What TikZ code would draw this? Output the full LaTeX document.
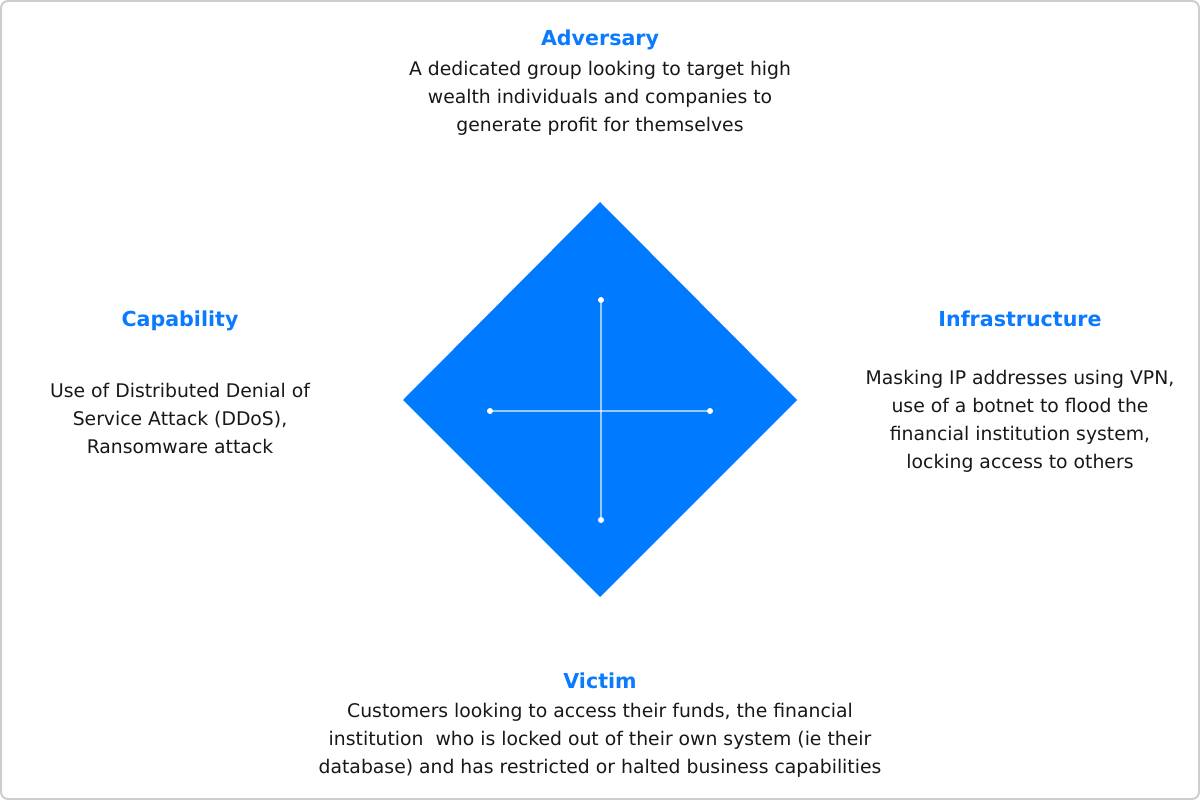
\documentclass[tikz,border=0pt]{standalone}
\usepackage{fontspec}
\setmainfont{DejaVu Sans}
\definecolor{diamondblue}{RGB}{0,122,255}
\definecolor{titleblue}{RGB}{10,122,255}
\definecolor{bodytext}{RGB}{24,24,24}
\definecolor{framegray}{RGB}{205,205,205}
\begin{document}
\begin{tikzpicture}[x=1pt,y=-1pt,
  heading/.style={font=\fontsize{20.6}{26}\selectfont\bfseries, text=titleblue, inner sep=0pt, anchor=base},
  bodyblock/.style={font=\fontsize{18.8}{28}\selectfont, text=bodytext, align=center, inner sep=0pt, anchor=north},
  axisline/.style={white, opacity=0.6, line width=1.6pt},
  enddot/.style={circle, fill=white, inner sep=0pt, minimum size=6pt}]
  \useasboundingbox (0,0) rectangle (1200,800);
  % outer frame
  \draw[framegray, line width=2pt, rounded corners=7pt] (1,1) rectangle (1199,799);

  % central diamond
  \fill[diamondblue] (600,202) -- (797,400) -- (600,597) -- (403,400) -- cycle;

  % cross with end points
  \node[enddot] (top) at (601,300) {};
  \node[enddot] (bottom) at (601,520) {};
  \node[enddot] (left) at (490,411) {};
  \node[enddot] (right) at (710,411) {};
  \draw[axisline] (top.center) -- (bottom.center);
  \draw[axisline] (left.center) -- (right.center);

  % adversary
  \node[heading] (advT) at (600,46) {Adversary};
  \node[bodyblock] (advB) at (600,61) {A dedicated group looking to target high\\wealth individuals and companies to\\generate profit for themselves};

  % capability
  \node[heading] (capT) at (180,326) {Capability};
  \node[bodyblock] (capB) at (180,383) {Use of Distributed Denial of\\Service Attack (DDoS),\\Ransomware attack};

  % infrastructure
  \node[heading] (infT) at (1020,326) {Infrastructure};
  \node[bodyblock] (infB) at (1020,370) {Masking IP addresses using VPN,\\use of a botnet to flood the\\financial institution system,\\locking access to others};

  % victim
  \node[heading] (vicT) at (600,688) {Victim};
  \node[bodyblock] (vicB) at (600,703) {Customers looking to access their funds, the financial\\institution\ \ who is locked out of their own system (ie their\\database) and has restricted or halted business capabilities};
\end{tikzpicture}
\end{document}
